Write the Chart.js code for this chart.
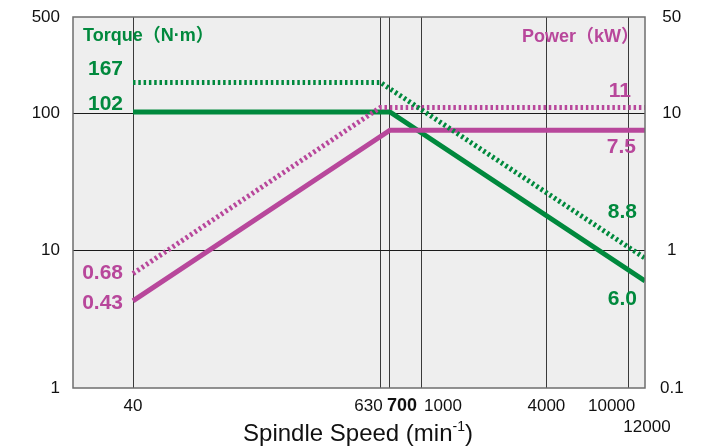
<!DOCTYPE html>
<html>
<head>
<meta charset="utf-8">
<script src="https://cdn.jsdelivr.net/npm/chart.js@4/dist/chart.umd.min.js"></script>
<style>
  html, body { margin: 0; padding: 0; background: #ffffff; }
  #wrap { width: 706px; height: 446px; position: relative; }
</style>
</head>
<body>
<div id="wrap"><canvas id="c"></canvas></div>
<script>
// ---- data ----
const speedsSolid = [40, 700, 12000];
const speedsDashed = [40, 630, 12000];
const torqueSolid = [102, 102, 6.0];
const torqueDashed = [167, 167, 8.8];
const powerSolid = [0.43, 7.5, 7.5];
const powerDashed = [0.68, 11, 11];
const xTickValues = [40, 630, 700, 1000, 4000, 10000, 12000];
const xTickLabels = ['40', '630', '700', '1000', '4000', '10000', '12000'];
const yTickValues = [1, 10, 100, 500];
const y2TickValues = [0.1, 1, 10, 50];

// ---- styles ----
const GREEN = '#00893d';
const MAGENTA = '#b8479b';
const FONT = '"Liberation Sans", Arial, "Noto Sans CJK JP", sans-serif';
const xLabelStyle = {
  40: { dx: 0, row: 0 }, 630: { dx: -12, row: 0 }, 700: { dx: 12, row: 0, bold: true },
  1000: { dx: 21, row: 0 }, 4000: { dx: 0, row: 0 }, 10000: { dx: -17, row: 0 }, 12000: { dx: 2, row: 1 }
};

const pts = (xs, ys) => xs.map((x, i) => ({ x: x, y: ys[i] }));

const decor = {
  id: 'decor',
  beforeDraw(chart) {
    const { ctx, chartArea: a } = chart;
    ctx.save();
    ctx.fillStyle = '#eeeeee';
    ctx.fillRect(a.left, a.top, a.right - a.left, a.bottom - a.top);
    ctx.restore();
  },
  afterDatasetsDraw(chart) {
    const { ctx, chartArea: a, scales } = chart;
    ctx.save();
    // plot border
    ctx.strokeStyle = '#6e6e6e';
    ctx.lineWidth = 1.5;
    ctx.strokeRect(a.left, a.top, a.right - a.left, a.bottom - a.top);

    // x tick labels
    ctx.fillStyle = '#111';
    ctx.textAlign = 'center';
    ctx.textBaseline = 'alphabetic';
    xTickValues.forEach((v, i) => {
      const s = xLabelStyle[v];
      ctx.font = (s.bold ? 'bold 18px ' : '17px ') + FONT;
      const px = scales.x.getPixelForValue(v) + s.dx;
      const py = a.bottom + (s.row ? 44 : 23);
      ctx.fillText(xTickLabels[i], px, py);
    });

    // axis title with superscript
    const cx = (a.left + a.right) / 2 - 1;
    const by = 441;
    const p1 = 'Spindle Speed (min', sup = '-1', p2 = ')';
    ctx.font = '24px ' + FONT;
    const w1 = ctx.measureText(p1).width, w3 = ctx.measureText(p2).width;
    ctx.font = '14px ' + FONT;
    const w2 = ctx.measureText(sup).width;
    let x0 = cx - (w1 + w2 + w3) / 2;
    ctx.textAlign = 'left';
    ctx.font = '24px ' + FONT;
    ctx.fillText(p1, x0, by);
    ctx.font = '14px ' + FONT;
    ctx.fillText(sup, x0 + w1, by - 10);
    ctx.font = '24px ' + FONT;
    ctx.fillText(p2, x0 + w1 + w2, by);

    // series annotations
    const L = a.left, R = a.right;
    ctx.fillStyle = GREEN;
    ctx.font = 'bold 18px ' + FONT;
    ctx.textAlign = 'left';
    ctx.fillText('Torque（N·m）', L + 10, a.top + 24);
    ctx.font = 'bold 21px ' + FONT;
    ctx.textAlign = 'right';
    ctx.fillText(String(torqueDashed[0]), L + 50, a.top + 58);
    ctx.fillText(String(torqueSolid[0]), L + 50, a.top + 93);
    ctx.fillText(torqueDashed[2].toFixed(1), R - 8, a.top + 201);
    ctx.fillText(torqueSolid[2].toFixed(1), R - 8, a.top + 288);

    ctx.fillStyle = MAGENTA;
    ctx.font = 'bold 18px ' + FONT;
    ctx.fillText('Power（kW）', R - 6, a.top + 25);
    ctx.font = 'bold 21px ' + FONT;
    ctx.fillText(String(powerDashed[2]), R - 14, a.top + 80);
    ctx.fillText(powerSolid[2].toFixed(1), R - 9, a.top + 136);
    ctx.fillText(powerDashed[0].toFixed(2), L + 50, a.top + 262);
    ctx.fillText(powerSolid[0].toFixed(2), L + 50, a.top + 292);
    ctx.restore();
  }
};

const lineBase = { tension: 0, pointRadius: 0, borderWidth: 5, borderCapStyle: 'butt', clip: 0, fill: false };
const dotted = [2.5, 2.8];
const fitV = w => s => { s.width = w; s.paddingTop = 0; s.paddingBottom = 0; };

new Chart(document.getElementById('c'), {
  type: 'line',
  data: {
    datasets: [
      Object.assign({ label: 'Torque dashed', data: pts(speedsDashed, torqueDashed), borderColor: GREEN, borderDash: dotted, yAxisID: 'y' }, lineBase),
      Object.assign({ label: 'Power dashed', data: pts(speedsDashed, powerDashed), borderColor: MAGENTA, borderDash: dotted, yAxisID: 'y2' }, lineBase),
      Object.assign({ label: 'Power', data: pts(speedsSolid, powerSolid), borderColor: MAGENTA, yAxisID: 'y2' }, lineBase),
      Object.assign({ label: 'Torque', data: pts(speedsSolid, torqueSolid), borderColor: GREEN, yAxisID: 'y' }, lineBase)
    ]
  },
  options: {
    responsive: true,
    maintainAspectRatio: false,
    animation: false,
    events: [],
    layout: { padding: { top: 17, left: 0, right: 0, bottom: 0 } },
    plugins: { legend: { display: false }, tooltip: { enabled: false } },
    scales: {
      x: {
        type: 'logarithmic',
        bounds: 'data',
        min: 20.5,
        max: 12000,
        afterBuildTicks: s => { s.ticks = xTickValues.map(v => ({ value: v })); },
        afterFit: s => { s.height = 58; s.paddingLeft = 0; s.paddingRight = 0; },
        ticks: { display: false },
        border: { display: false },
        grid: {
          drawTicks: false,
          lineWidth: 1,
          color: c => (c.tick && c.tick.value < 12000) ? '#3a3a3a' : 'rgba(0,0,0,0)'
        }
      },
      y: {
        type: 'logarithmic',
        position: 'left',
        bounds: 'data',
        min: 1,
        max: 500,
        afterBuildTicks: s => { s.ticks = yTickValues.map(v => ({ value: v })); },
        afterFit: fitV(73),
        ticks: {
          padding: 13,
          color: '#111',
          font: { family: FONT, size: 17 },
          callback: v => String(v)
        },
        border: { display: false },
        grid: {
          drawTicks: false,
          lineWidth: 1,
          color: c => (c.tick && (c.tick.value === 10 || c.tick.value === 100)) ? '#1a1a1a' : 'rgba(0,0,0,0)'
        }
      },
      y2: {
        type: 'logarithmic',
        position: 'right',
        bounds: 'data',
        min: 0.1,
        max: 50,
        afterBuildTicks: s => { s.ticks = y2TickValues.map(v => ({ value: v })); },
        afterFit: fitV(61),
        ticks: {
          padding: 15,
          crossAlign: 'center',
          color: '#111',
          font: { family: FONT, size: 17 },
          callback: v => String(v)
        },
        border: { display: false },
        grid: { display: false, drawTicks: false }
      }
    }
  },
  plugins: [decor]
});
</script>
</body>
</html>
